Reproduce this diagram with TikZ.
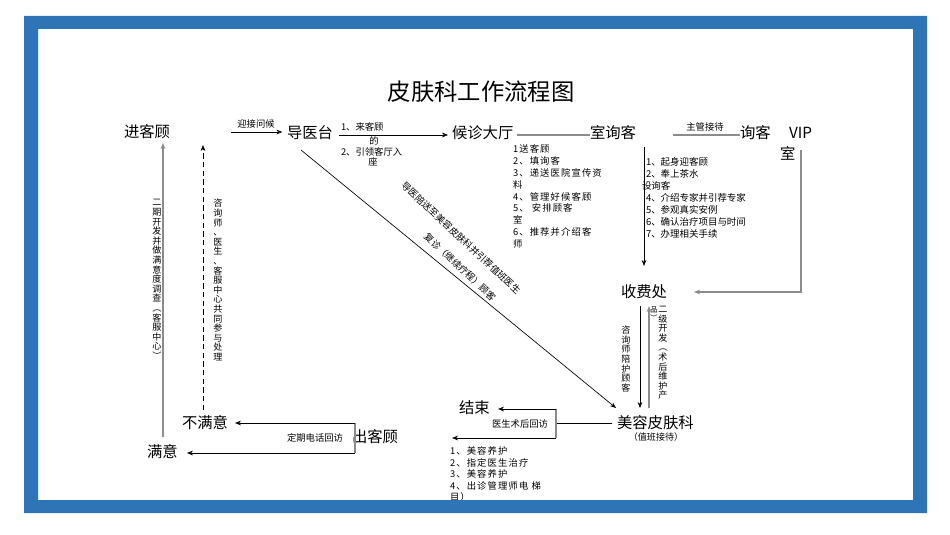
\documentclass[tikz,border=0pt]{standalone}
\usepackage{fontspec}
\setmainfont{Noto Sans CJK SC}
\newfontfamily\spacedcjk[LetterSpace=12]{Noto Sans CJK SC}
\usetikzlibrary{arrows.meta,calc}
\definecolor{frameblue}{HTML}{2E75B6}
\definecolor{lgray}{HTML}{8C8C8C}
\def\vt#1{\vtA#1\vtEnd}
\def\vtA#1#2\vtEnd{#1\ifx\relax#2\relax\else\\\vtA#2\vtEnd\fi}
\newcommand\vlp{\rotatebox[origin=c]{-90}{（}}
\newcommand\vrp{\rotatebox[origin=c]{-90}{）}}
\begin{document}
\begin{tikzpicture}[x=0.75pt,y=-0.75pt,
  every node/.style={inner sep=0pt, outer sep=0pt},
  big/.style={font=\fontsize{11.5}{13}\selectfont, anchor=west},
  small/.style={font=\fontsize{7}{8.5}\selectfont},
  vsmall/.style={font=\fontsize{6.8}{7.2}\selectfont, align=center},
  list/.style={align=left, anchor=north west},
  arr/.style={-{Stealth[length=4.5pt,width=3.5pt]}, line width=0.5pt},
  thin/.style={line width=0.5pt},
  gline/.style={draw=lgray, line width=1.1pt},
]
\useasboundingbox (0,0) rectangle (950,535);
\fill[white] (0,0) rectangle (950,535);

% title
\node[font=\fontsize{17.5}{20}\selectfont] (title) at (481,92) {皮肤科工作流程图};

% main nodes
\node[big] (jin) at (124,132) {进客顾};
\node[big] (dao) at (287,133) {导医台};
\node[big] (hou) at (452,133) {候诊大厅};
\node[big] (shi) at (590,133) {室询客};
\node[big] (xunke) at (740,133) {询客};
\node[big] (vip) at (789,133) {VIP};
\node[big] (vipshi) at (780,153) {室};
\node[big] (shoufei) at (621,292) {收费处};
\node[big] (meirong) at (617,423) {美容皮肤科};
\node[font=\fontsize{6.8}{8}\selectfont] (zhiban) at (656,437) {（值班接待）};
\node[big] (jieshu) at (459,408) {结束};
\node[big] (chu) at (352,437) {出客顾};
\node[big] (bumanyi) at (182,423) {不满意};
\node[big] (manyi) at (147,452) {满意};

% labels
\node[small] (l1) at (256,124) {迎接问候};
\node[small, anchor=west] (l2a) at (341,127) {1、来客顾};
\node[small] (l2b) at (374,141) {的};
\node[small, anchor=west] (l2c) at (341,152) {2、引领客厅入};
\node[small] (l2d) at (373,162) {座};
\node[small] (l3) at (705,127) {主管接待};
\node[small] (l4) at (315,438) {定期电话回访};
\node[small] (l5) at (520,424) {医生术后回访};

\node[list, font=\fontsize{7}{8.85}\spacedcjk] (listA) at (513,145) {1送客顾\\2、填询客\\3、递送医院宣传资\\料\\4、管理好候客顾\\5、 安排顾客\\室\\6、推荐并介绍客\\师};
\node[list, font=\fontsize{7.1}{9}\selectfont] (listB) at (646,157) {1、起身迎客顾\\2、奉上茶水\\\hspace*{-3pt}设询客\\4、介绍专家并引荐专家\\5、参观真实安例\\6、确认治疗项目与时间\\7、办理相关手续};
\node[list, font=\fontsize{7}{8.6}\spacedcjk] (listC) at (450,447) {1、美容养护\\2、指定医生治疗\\3、美容养护\\4、出诊管理师电 梯\\目）};

\node[vsmall] (v1) at (157,280) {\vt{二期开发并做满意度调查{{\vlp}}客服中心{{\vrp}}}};
\node[vsmall] (v2) at (218,280) {\vt{咨询师、医生、客服中心共同参与处理}};
\node[vsmall] (v3) at (626,359) {\vt{咨询师陪护顾客}};
\node[vsmall] (v4) at (663,353) {\vt{二级开发{{\vlp}}术后维护产}};
\node[font=\fontsize{5.5}{6}\selectfont, align=center] (v4b) at (654,314) {品\\\vrp};

\node[small, rotate=-43] (d1) at (461,238) {导医陪送至美容皮肤科并引荐值班医生};
\node[small, rotate=-43] (d2) at (460,267) {复诊（继续疗程）顾客};

% connectors
\coordinate (c1) at (231,132);
\draw[arr, shorten >=3.5pt] (c1) -- (c1 -| dao.west);
\coordinate (c2) at (339,135);
\draw[arr, shorten >=3pt] (c2) -- (c2 -| hou.west);
\coordinate (c3) at (517,135);
\draw[gline] (c3) -- (c3 -| shi.west);
\coordinate (c4) at (673,135);
\draw[gline] (c4) -- (c4 -| xunke.west);
\coordinate (c5) at (644,147);
\coordinate (c5e) at (644,266);
\draw[arr] (c5) -- (c5e);
\coordinate (c6) at (801,150);
\coordinate (c6e) at (694,292);
\draw[gline, -{Stealth[length=4.5pt,width=3.5pt]}] (c6) |- (c6e);
\coordinate (c7) at (640,306);
\coordinate (c7e) at (640,408);
\draw[arr] (c7) -- (c7e);
\coordinate (c8) at (649,408);
\coordinate (c8e) at (649,306);
\draw[gline, line width=0.8pt, -{Stealth[length=4.5pt,width=3.5pt]}] (c8) -- (c8e);
\coordinate (c9) at (301,150);
\coordinate (c9e) at (616,408);
\draw[arr] (c9) -- (c9e);
% meirong to jieshu
\coordinate (m1) at (612,423);
\coordinate (m2) at (556,423);
\coordinate (m3) at (556,409);
\coordinate (m4) at (556,438);
\coordinate (m3e) at (498,409);
\coordinate (m4e) at (452,438);
\draw[thin] (m1) -- (m2);
\draw[gline, line width=0.8pt] (m3) -- (m4);
\draw[arr] (m3) -- (m3e);
\draw[arr] (m4) -- (m4e);
% chu to satisfaction
\coordinate (k1) at (355,423);
\coordinate (k2) at (355,453);
\coordinate (k1e) at (235,423);
\coordinate (k2e) at (187,453);
\draw[gline, line width=0.8pt] (k1) -- (k2);
\draw[arr] (k1) -- (k1e);
\draw[arr] (k2) -- (k2e);
% up lines
\coordinate (u1) at (163,437);
\coordinate (u1e) at (163,143);
\draw[gline, -{Stealth[length=4.5pt,width=3.5pt]}] (u1) -- (u1e);
\coordinate (u2) at (203,410);
\coordinate (u2e) at (203,145);
\draw[arr, dashed, dash pattern=on 4pt off 2.5pt] (u2) -- (u2e);

% frame
\fill[frameblue, even odd rule] (24,16) rectangle (927,513) (38,29) rectangle (913,500);
\end{tikzpicture}
\end{document}
